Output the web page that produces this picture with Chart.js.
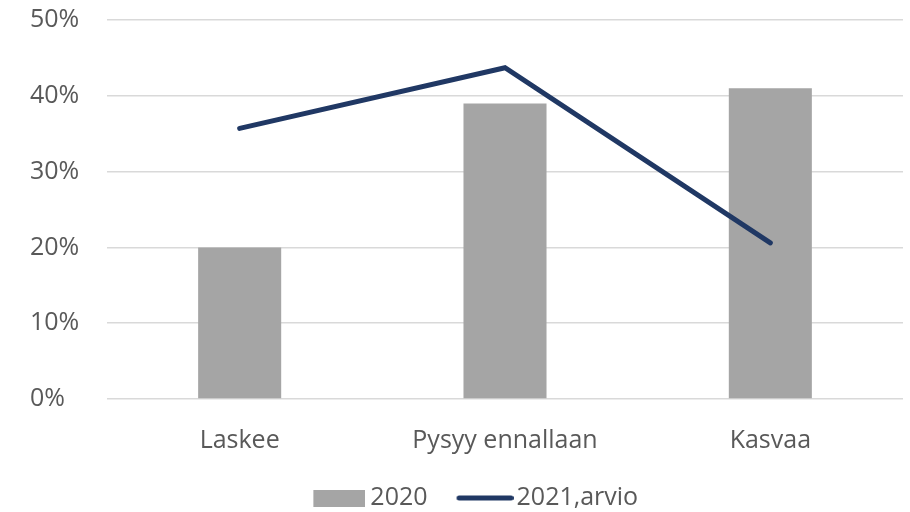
<!DOCTYPE html>
<html>
<head>
<meta charset="utf-8">
<script src="https://cdn.jsdelivr.net/npm/chart.js@4"></script>
<style>
  html, body { margin: 0; padding: 0; background: #fff; }
</style>
</head>
<body>
<canvas id="chart_a" width="910" height="512"></canvas>
<script>
// data
var categories = ['Laskee', 'Pysyy ennallaan', 'Kasvaa'];
var values2020 = [20, 39, 41];
var values2021 = [35.7, 43.7, 20.6];
var label2020 = '2020';
var label2021 = '2021,arvio';

var barColor = '#a5a5a5';
var lineColor = '#203864';
var textColor = '#595959';
var gridColor = '#d9d9d9';

// legend markers drawn into small canvases (pointStyle images)
var boxImg = document.createElement('canvas');
boxImg.width = 63; boxImg.height = 17;
var bctx = boxImg.getContext('2d');
bctx.fillStyle = barColor;
bctx.fillRect(11, 0, 52, 17);

var lineImg = document.createElement('canvas');
lineImg.width = 67; lineImg.height = 6;
var lctx = lineImg.getContext('2d');
lctx.strokeStyle = lineColor;
lctx.lineWidth = 5;
lctx.lineCap = 'round';
lctx.beginPath();
lctx.moveTo(12.5, 3);
lctx.lineTo(64.5, 3);
lctx.stroke();

var ctx = document.getElementById('chart_a').getContext('2d');
var myChart = new Chart(ctx, {
  data: {
    labels: categories,
    datasets: [{
      type: 'bar',
      label: label2020,
      data: values2020,
      backgroundColor: barColor,
      barPercentage: 0.313,
      categoryPercentage: 1,
      order: 2
    }, {
      type: 'line',
      label: label2021,
      data: values2021,
      borderColor: lineColor,
      backgroundColor: lineColor,
      borderWidth: 5,
      borderCapStyle: 'round',
      pointRadius: 0,
      tension: 0,
      order: 1
    }]
  },
  options: {
    responsive: false,
    animation: false,
    layout: { padding: { left: 45, right: 7, top: 0, bottom: -8.5 } },
    scales: {
      x: {
        grid: { display: false },
        border: { display: false },
        ticks: { color: textColor, font: { family: 'Open Sans', size: 25 }, padding: 19 },
        afterFit: function (scale) { scale.height = 58; }
      },
      y: {
        min: 0,
        max: 50,
        ticks: {
          stepSize: 10,
          color: textColor,
          mirror: true,
          padding: -77,
          font: { family: 'Open Sans', size: 25 },
          callback: function (v) { return v + '%'; }
        },
        grid: { color: gridColor, lineWidth: 1.5, drawTicks: false },
        border: { display: false },
        afterFit: function (scale) {
          scale.width = 62;
          scale.paddingTop = 20;
          scale.paddingBottom = 0;
        }
      }
    },
    plugins: {
      tooltip: { enabled: false },
      legend: {
        position: 'bottom',
        labels: {
          color: textColor,
          font: { family: 'Open Sans', size: 25 },
          usePointStyle: true,
          pointStyleWidth: 48,
          boxHeight: 17,
          padding: 28.5,
          generateLabels: function (chart) {
            var items = Chart.defaults.plugins.legend.labels.generateLabels(chart);
            items.sort(function (a, b) { return a.datasetIndex - b.datasetIndex; });
            items.forEach(function (it) {
              it.pointStyle = it.datasetIndex === 0 ? boxImg : lineImg;
            });
            return items;
          }
        }
      }
    }
  }
});
</script>
</body>
</html>
